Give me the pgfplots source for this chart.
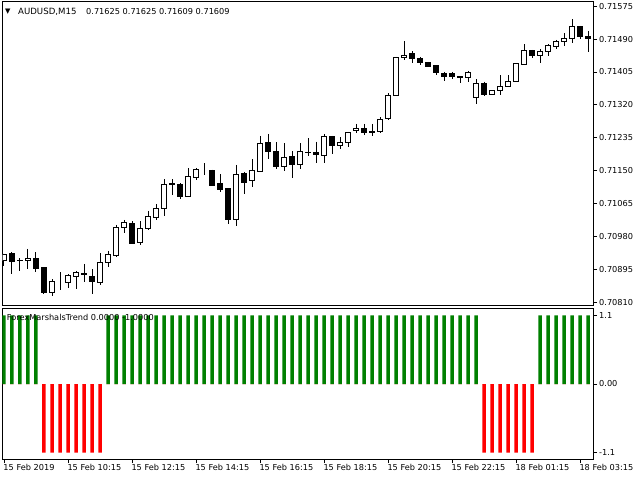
\documentclass[border=0pt]{standalone}
\usepackage{fontspec}
\setmainfont{DejaVu Sans}
\usepackage{pgfplots}
\pgfplotsset{compat=1.18}
\usepackage{pgfplotstable}

\definecolor{mtgreen}{HTML}{008000}
\definecolor{mtred}{HTML}{FF0000}

% AUDUSD M15 candles: bar index, open, high, low, close
\pgfplotstableread{
i o h l c
0 0.70917 0.70936 0.70904 0.70934
1 0.70937 0.70939 0.70884 0.70915
2 0.70918 0.70924 0.70890 0.70919
3 0.70917 0.70948 0.70897 0.70924
4 0.70924 0.70939 0.70888 0.70897
5 0.70899 0.70900 0.70831 0.70834
6 0.70836 0.70870 0.70825 0.70864
7 0.70865 0.70888 0.70842 0.70865
8 0.70861 0.70882 0.70848 0.70878
9 0.70876 0.70891 0.70844 0.70888
10 0.70885 0.70909 0.70862 0.70881
11 0.70877 0.70895 0.70831 0.70863
12 0.70862 0.70937 0.70855 0.70913
13 0.70913 0.70943 0.70901 0.70934
14 0.70932 0.71010 0.70927 0.71003
15 0.71004 0.71023 0.70990 0.71017
16 0.71014 0.71019 0.70960 0.70961
17 0.70965 0.71020 0.70959 0.71001
18 0.71001 0.71046 0.70997 0.71032
19 0.71030 0.71063 0.71023 0.71053
20 0.71053 0.71128 0.71033 0.71115
21 0.71115 0.71128 0.71087 0.71116
22 0.71115 0.71117 0.71078 0.71083
23 0.71083 0.71156 0.71082 0.71136
24 0.71132 0.71157 0.71126 0.71152
25 0.71152 0.71169 0.71140 0.71152
26 0.71151 0.71153 0.71110 0.71113
27 0.71117 0.71141 0.71096 0.71101
28 0.71103 0.71105 0.71011 0.71024
29 0.71024 0.71165 0.71008 0.71141
30 0.71143 0.71147 0.71091 0.71120
31 0.71125 0.71180 0.71109 0.71151
32 0.71147 0.71240 0.71146 0.71221
33 0.71223 0.71245 0.71181 0.71199
34 0.71200 0.71224 0.71155 0.71160
35 0.71160 0.71221 0.71150 0.71185
36 0.71187 0.71200 0.71132 0.71166
37 0.71166 0.71221 0.71154 0.71200
38 0.71197 0.71234 0.71189 0.71198
39 0.71196 0.71225 0.71171 0.71192
40 0.71190 0.71245 0.71171 0.71239
41 0.71239 0.71240 0.71193 0.71215
42 0.71216 0.71236 0.71207 0.71223
43 0.71223 0.71250 0.71212 0.71249
44 0.71253 0.71271 0.71248 0.71260
45 0.71260 0.71271 0.71243 0.71248
46 0.71249 0.71271 0.71239 0.71250
47 0.71250 0.71288 0.71248 0.71283
48 0.71285 0.71350 0.71282 0.71345
49 0.71344 0.71444 0.71343 0.71443
50 0.71442 0.71485 0.71436 0.71448
51 0.71452 0.71459 0.71429 0.71439
52 0.71439 0.71444 0.71424 0.71430
53 0.71430 0.71431 0.71418 0.71419
54 0.71422 0.71423 0.71398 0.71404
55 0.71402 0.71405 0.71383 0.71393
56 0.71400 0.71405 0.71386 0.71394
57 0.71394 0.71394 0.71376 0.71391
58 0.71391 0.71408 0.71379 0.71404
59 0.71340 0.71386 0.71322 0.71374
60 0.71374 0.71380 0.71343 0.71346
61 0.71347 0.71357 0.71346 0.71356
62 0.71358 0.71396 0.71346 0.71368
63 0.71368 0.71396 0.71367 0.71381
64 0.71381 0.71428 0.71380 0.71426
65 0.71425 0.71477 0.71422 0.71461
66 0.71461 0.71462 0.71442 0.71448
67 0.71448 0.71464 0.71428 0.71458
68 0.71458 0.71477 0.71446 0.71474
69 0.71471 0.71488 0.71465 0.71485
70 0.71483 0.71505 0.71473 0.71492
71 0.71492 0.71541 0.71481 0.71523
72 0.71523 0.71524 0.71490 0.71496
73 0.71497 0.71511 0.71457 0.71491
}\candles

% ForexMarshalsTrend histogram: up / down buffers
\pgfplotstableread{
i up dn
0 1.1 0
1 1.1 0
2 1.1 0
3 1.1 0
4 1.1 0
5 0 -1.1
6 0 -1.1
7 0 -1.1
8 0 -1.1
9 0 -1.1
10 0 -1.1
11 0 -1.1
12 0 -1.1
13 1.1 0
14 1.1 0
15 1.1 0
16 1.1 0
17 1.1 0
18 1.1 0
19 1.1 0
20 1.1 0
21 1.1 0
22 1.1 0
23 1.1 0
24 1.1 0
25 1.1 0
26 1.1 0
27 1.1 0
28 1.1 0
29 1.1 0
30 1.1 0
31 1.1 0
32 1.1 0
33 1.1 0
34 1.1 0
35 1.1 0
36 1.1 0
37 1.1 0
38 1.1 0
39 1.1 0
40 1.1 0
41 1.1 0
42 1.1 0
43 1.1 0
44 1.1 0
45 1.1 0
46 1.1 0
47 1.1 0
48 1.1 0
49 1.1 0
50 1.1 0
51 1.1 0
52 1.1 0
53 1.1 0
54 1.1 0
55 1.1 0
56 1.1 0
57 1.1 0
58 1.1 0
59 1.1 0
60 0 -1.1
61 0 -1.1
62 0 -1.1
63 0 -1.1
64 0 -1.1
65 0 -1.1
66 0 -1.1
67 1.1 0
68 1.1 0
69 1.1 0
70 1.1 0
71 1.1 0
72 1.1 0
73 1.1 0
}\trend

\newcommand{\mtfont}{\fontsize{8.2}{9.8}\selectfont}

\begin{document}
\begin{tikzpicture}[x=1pt,y=1pt]
\fill[white] (0,0) rectangle (640,480);

\pgfplotsset{
  mt/.style={
    scale only axis, width=590.5pt, anchor=south west,
    xmin=-0.1875, xmax=73.625, enlargelimits=false,
    axis line style={line width=0.9pt},
    tick align=outside, major tick length=4pt,
    every tick/.style={black, line width=0.8pt},
    tick label style={font=\mtfont, /pgf/number format/assume math mode=true},
    ytick pos=right, yticklabel pos=right,
    yticklabel style={anchor=west, inner sep=0pt, xshift=2pt},
  },
  main/.style={mt, at={(2.5pt,174.5pt)}, height=304.5pt,
    ymin=0.708017, ymax=0.715884},
}

% price window: frame, price scale and wicks
\begin{axis}[main, xtick=\empty,
  ytick={0.70810,0.70895,0.70980,0.71065,0.71150,0.71235,0.71320,0.71405,0.71490,0.71575},
  yticklabels={0.70810,0.70895,0.70980,0.71065,0.71150,0.71235,0.71320,0.71405,0.71490,0.71575}]
\addplot[draw=none, mark=none,
  error bars/.cd, y dir=minus, y explicit, error mark=none,
  error bar style={draw=black, line width=1pt}]
  table[x=i, y=h, y error minus expr={\thisrow{h}-\thisrow{l}}] {\candles};
\end{axis}

% candle bodies, stacked on an invisible base
\begin{axis}[main, hide axis, ybar stacked, bar width=4.2pt]
\addplot[draw=none, fill=none] table[x=i, y expr={min(\thisrow{o},\thisrow{c})}] {\candles};
\addplot[draw=black, fill=white, line width=1pt] table[x=i, y expr={max(\thisrow{c}-\thisrow{o},0)}] {\candles};
\addplot[draw=black, fill=black, line width=1pt] table[x=i, y expr={max(\thisrow{o}-\thisrow{c},0)}] {\candles};
\end{axis}

% indicator window
\begin{axis}[mt, at={(2.5pt,21pt)}, height=151pt,
  ymin=-1.202, ymax=1.218,
  ybar, bar width=3.5pt, bar shift=0pt,
  xtick={0,8,...,72}, xtick pos=bottom,
  xticklabels={15 Feb 2019,15 Feb 10:15,15 Feb 12:15,15 Feb 14:15,15 Feb 16:15,15 Feb 18:15,15 Feb 20:15,15 Feb 22:15,18 Feb 01:15,18 Feb 03:15},
  xticklabel style={anchor=north west, inner sep=0pt, xshift=-0.7pt, yshift=-1pt},
  ytick={-1.1,0,1.1}, yticklabels={-1.1,0.00,1.1}]
\addplot[draw=none, fill=mtgreen] table[x=i, y=up] {\trend};
\addplot[draw=none, fill=mtred] table[x=i, y=dn] {\trend};
\end{axis}

% window captions
\node[anchor=center, inner sep=0pt, font=\fontsize{7}{8}\selectfont] at (7.8,468.5) {▼};
\node[anchor=base west, inner sep=0pt, font=\fontsize{8.6}{10}\selectfont] at (18,465) {AUDUSD,M15};
\node[anchor=base west, inner sep=0pt, font=\mtfont] at (86,465) {0.71625 0.71625 0.71609 0.71609};
\node[anchor=base west, inner sep=0pt, font=\mtfont] at (6.7,159.3) {ForexMarshalsTrend 0.0000 -1.0000};
\end{tikzpicture}
\end{document}
